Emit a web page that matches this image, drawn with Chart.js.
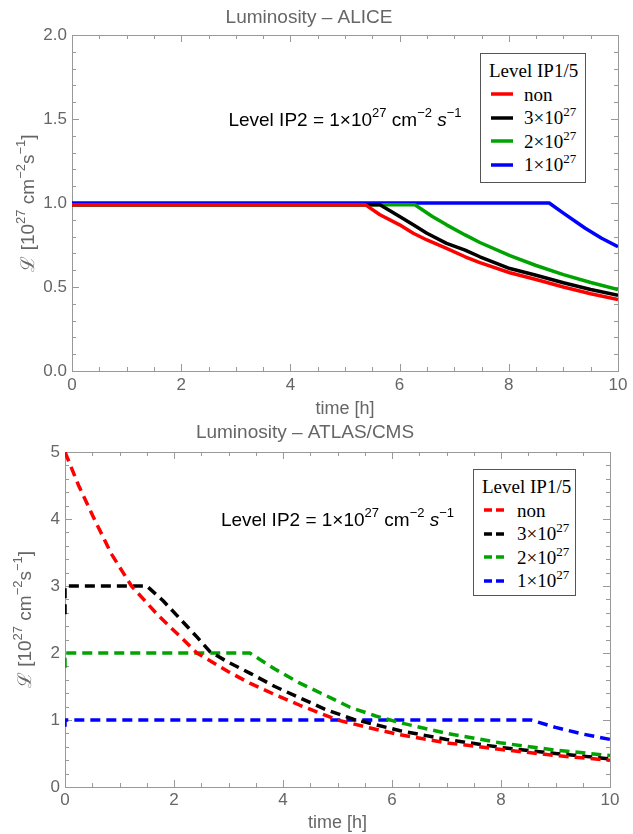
<!DOCTYPE html>
<html>
<head>
<meta charset="UTF-8">
<title>Luminosity - ALICE / ATLAS-CMS</title>
<script src="https://cdn.jsdelivr.net/npm/chart.js"></script>
<style>
  body { margin: 0; background: #fff; }
  #page { position: relative; width: 633px; height: 834px; overflow: hidden; }
  canvas { position: absolute; left: 0; }
  .legend {
    position: absolute; box-sizing: border-box; background: #fff;
    border: 1px solid #555; color: #000;
    font-family: "Liberation Serif", "DejaVu Serif", serif; font-size: 19px; line-height: 23.5px;
    padding: 5px 0 0 8px;
  }
  .legend .li { display: flex; align-items: center; padding-left: 2px; white-space: nowrap; }
  .legend svg { margin-right: 11px; flex: none; }
  .legend sup { font-size: 13px; line-height: 0; vertical-align: 0; position: relative; top: -8px; }
</style>
</head>
<body>
<div id="page">
  <canvas id="alice" width="633" height="420" style="top:0"></canvas>
  <canvas id="atlas" width="633" height="414" style="top:420px"></canvas>
  <div id="legAlice" class="legend" style="left:480px;top:53px;width:106px;height:130px"></div>
  <div id="legAtlas" class="legend" style="left:473px;top:469px;width:103px;height:127px"></div>
</div>
<script>
// ---- values ----
const legendTitle = 'Level IP1/5';
const seriesLabels = ['non', '3×10', '2×10', '1×10'];
const seriesExps = ['', '27', '27', '27'];
const seriesColors = ['#ff0000', '#000000', '#00a300', '#0000ff'];

const timeTicks = [0, 2, 4, 6, 8, 10];
const aliceTicks = [0, 0.5, 1, 1.5, 2];
const atlasTicks = [0, 1, 2, 3, 4, 5];

// ALICE (solid)
const aliceNonT = [0, 5.37, 5.64, 6.0, 6.25, 6.5, 6.86, 7.2, 7.47, 8.02, 8.5, 9.0, 9.5, 10];
const aliceNonL = [0.99, 0.99, 0.93, 0.87, 0.82, 0.78, 0.73, 0.68, 0.645, 0.585, 0.545, 0.50, 0.46, 0.425];
const alice3T = [0, 5.64, 6.0, 6.25, 6.5, 6.86, 7.2, 7.47, 8.02, 8.5, 9.0, 9.5, 10];
const alice3L = [0.99, 0.99, 0.92, 0.87, 0.82, 0.76, 0.72, 0.68, 0.61, 0.57, 0.525, 0.485, 0.45];
const alice2T = [0, 6.28, 6.6, 6.86, 7.2, 7.47, 8.02, 8.5, 9.0, 9.5, 10];
const alice2L = [0.99, 0.99, 0.92, 0.87, 0.81, 0.765, 0.687, 0.628, 0.574, 0.527, 0.485];
const alice1T = [0, 8.74, 9.0, 9.4, 9.7, 10];
const alice1L = [1.0, 1.0, 0.94, 0.85, 0.79, 0.74];

// ATLAS/CMS (dashed)
const atlasNonT = [0, 0.25, 0.52, 0.85, 1.22, 1.7, 2.17, 2.42, 3.0, 3.39, 3.85, 4.31, 5.0, 5.6, 6.15, 7.0, 8.0, 9.0, 10];
const atlasNonL = [5.0, 4.5, 4.03, 3.48, 3.0, 2.57, 2.2, 2.0, 1.72, 1.55, 1.38, 1.22, 1.0, 0.88, 0.78, 0.66, 0.56, 0.47, 0.40];
const atlas3T = [0, 0, 1.5, 1.8, 2.1, 2.42, 2.66, 3.0, 3.39, 3.85, 4.31, 4.8, 5.3, 6.15, 7.0, 8.0, 9.0, 10];
const atlas3L = [2.58, 3.0, 3.0, 2.78, 2.52, 2.24, 2.02, 1.86, 1.70, 1.5, 1.33, 1.15, 1.01, 0.84, 0.71, 0.59, 0.50, 0.42];
const atlas2T = [0, 0, 3.39, 3.85, 4.31, 4.8, 5.23, 5.7, 6.15, 7.0, 7.98, 9.0, 10];
const atlas2L = [1.78, 2.0, 2.0, 1.76, 1.55, 1.36, 1.19, 1.06, 0.96, 0.80, 0.66, 0.55, 0.47];
const atlas1T = [0, 0, 8.55, 9.0, 9.5, 10];
const atlas1L = [0.9, 1.0, 1.0, 0.89, 0.79, 0.71];

// ---- text pieces ----
const noteParts = [{t: 'Level IP2 = 1×10'}, {t: '27', sup: true}, {t: ' cm'}, {t: '−2', sup: true}, {t: ' '}, {t: 's', it: true}, {t: '−1', sup: true}];
const yTitleParts = [{t: 'ℒ [10'}, {t: '27', sup: true}, {t: ' cm'}, {t: '−2', sup: true}, {t: 's'}, {t: '−1', sup: true}, {t: ']'}];
const SANS = '"Liberation Sans", Arial, sans-serif';
const GREY = '#666';

function drawRich(ctx, parts, cx, cy, size, color, rot) {
  ctx.save();
  ctx.translate(cx, cy);
  if (rot) ctx.rotate(rot);
  ctx.fillStyle = color;
  ctx.textBaseline = 'alphabetic';
  ctx.textAlign = 'left';
  const fnt = p => (p.it ? 'italic ' : '') + Math.round(p.sup ? size * 0.68 : size) + 'px ' + SANS;
  let w = 0;
  parts.forEach(p => { ctx.font = fnt(p); w += ctx.measureText(p.t).width; });
  let x = -w / 2;
  const base = size * 0.36;
  parts.forEach(p => {
    ctx.font = fnt(p);
    ctx.fillText(p.t, x, base - (p.sup ? size * 0.45 : 0));
    x += ctx.measureText(p.t).width;
  });
  ctx.restore();
}

// frame with inward ticks on all four sides, like the original
const frame = {
  id: 'frame',
  beforeDatasetsDraw(chart, args, o) {
    const {ctx, chartArea: a, scales: {x, y}} = chart;
    ctx.save();
    ctx.strokeStyle = '#999';
    ctx.lineWidth = 1;
    ctx.strokeRect(Math.round(a.left) + 0.5, Math.round(a.top) + 0.5, Math.round(a.right - a.left), Math.round(a.bottom - a.top));
    ctx.beginPath();
    const n = Math.round((x.max - x.min) / o.xMinor);
    for (let i = 0; i <= n; i++) {
      const v = x.min + i * o.xMinor;
      const px = Math.round(x.getPixelForValue(v)) + 0.5;
      const len = Math.abs(v / o.xMajor - Math.round(v / o.xMajor)) < 1e-6 ? 7 : 4;
      ctx.moveTo(px, a.bottom); ctx.lineTo(px, a.bottom - len);
      ctx.moveTo(px, a.top); ctx.lineTo(px, a.top + len);
    }
    const m = Math.round((y.max - y.min) / o.yMinor);
    for (let i = 0; i <= m; i++) {
      const v = y.min + i * o.yMinor;
      const py = Math.round(y.getPixelForValue(v)) + 0.5;
      const len = Math.abs(v / o.yMajor - Math.round(v / o.yMajor)) < 1e-6 ? 7 : 4;
      ctx.moveTo(a.left, py); ctx.lineTo(a.left + len, py);
      ctx.moveTo(a.right, py); ctx.lineTo(a.right - len, py);
    }
    ctx.stroke();
    ctx.restore();
  }
};

const texts = {
  id: 'texts',
  afterDatasetsDraw(chart, args, o) {
    const {ctx, chartArea: a, scales: {x, y}} = chart;
    drawRich(ctx, noteParts, x.getPixelForValue(o.note[0]), y.getPixelForValue(o.note[1]), 19, '#000', 0);
    drawRich(ctx, yTitleParts, o.yTitleX, (a.top + a.bottom) / 2, 19, GREY, -Math.PI / 2);
  }
};

function toPts(t, l) { return t.map((v, i) => ({x: v, y: l[i]})); }

function makeChart(id, title, series, o) {
  const tickFont = {family: SANS, size: 17};
  return new Chart(document.getElementById(id), {
    type: 'line',
    data: {
      datasets: series.map((s, i) => ({
        label: seriesLabels[i] + seriesExps[i],
        data: toPts(s[0], s[1]),
        borderColor: seriesColors[i],
        borderWidth: 3.5,
        borderDash: o.dash,
        borderJoinStyle: 'round',
        pointRadius: 0,
        tension: 0,
        fill: false
      }))
    },
    plugins: [frame, texts],
    options: {
      responsive: false,
      animation: false,
      layout: {padding: {left: 0, right: o.padRight, top: 0, bottom: 0}},
      plugins: {
        legend: {display: false},
        tooltip: {enabled: false},
        title: {display: true, text: title, color: GREY, font: {family: SANS, size: 19, weight: 'normal'}, padding: o.titlePad},
        frame: {xMinor: 0.5, xMajor: 2, yMinor: o.yMinor, yMajor: o.yMajor},
        texts: {note: o.note, yTitleX: o.yTitleX}
      },
      scales: {
        x: {
          type: 'linear', min: 0, max: 10,
          afterBuildTicks: s => { s.ticks = timeTicks.map(v => ({value: v})); },
          afterFit: s => { s.height = o.xh; },
          ticks: {color: GREY, font: tickFont, padding: o.xPad, maxRotation: 0},
          grid: {display: false, drawTicks: false},
          border: {display: false},
          title: {display: true, text: 'time [h]', color: GREY, font: {family: SANS, size: 18}, padding: {top: 0, bottom: 0}}
        },
        y: {
          type: 'linear', min: 0, max: o.yTicks[o.yTicks.length - 1],
          afterBuildTicks: s => { s.ticks = o.yTicks.map(v => ({value: v})); },
          afterFit: s => { s.width = o.yw; },
          ticks: {color: GREY, font: tickFont, padding: 5, callback: v => o.fmt(v)},
          grid: {display: false, drawTicks: false},
          border: {display: false}
        }
      }
    }
  });
}

makeChart('alice', 'Luminosity – ALICE',
  [[aliceNonT, aliceNonL], [alice3T, alice3L], [alice2T, alice2L], [alice1T, alice1L]],
  {dash: [], yTicks: aliceTicks, fmt: v => v.toFixed(1), yMinor: 0.1, yMajor: 0.5,
   yw: 72, xh: 49, padRight: 15, titlePad: {top: 6, bottom: 6.2}, xPad: 4, note: [5, 1.5], yTitleX: 27});

makeChart('atlas', 'Luminosity – ATLAS/CMS',
  [[atlasNonT, atlasNonL], [atlas3T, atlas3L], [atlas2T, atlas2L], [atlas1T, atlas1L]],
  {dash: [10, 6], yTicks: atlasTicks, fmt: v => String(v), yMinor: 0.2, yMajor: 1,
   yw: 65, xh: 47, padRight: 23, titlePad: {top: 1.6, bottom: 7.6}, xPad: 3, note: [5, 4], yTitleX: 24});

function buildLegend(id, dashed) {
  const el = document.getElementById(id);
  let html = '<div>' + legendTitle + '</div>';
  seriesLabels.forEach((s, i) => {
    html += '<div class="li"><svg width="22" height="6"><line x1="0" y1="3" x2="22" y2="3" stroke="' + seriesColors[i] +
      '" stroke-width="3.5"' + (dashed ? ' stroke-dasharray="8 4"' : '') + '/></svg><span>' + s +
      (seriesExps[i] ? '<sup>' + seriesExps[i] + '</sup>' : '') + '</span></div>';
  });
  el.innerHTML = html;
}
buildLegend('legAlice', false);
buildLegend('legAtlas', true);
</script>
</body>
</html>
